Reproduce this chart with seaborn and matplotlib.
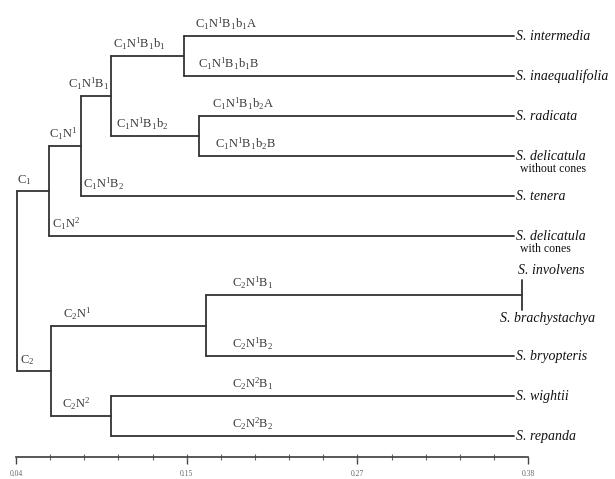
import numpy as np
import pandas as pd
import matplotlib.pyplot as plt
import seaborn as sns

# Hojas del dendrograma (especies)
leaf_names = ["S. intermedia", "S. inaequalifolia", "S. radicata", "S. delicatula",
              "S. tenera", "S. delicatula", "S. involvens", "S. brachystachya",
              "S. bryopteris", "S. wightii", "S. repanda"]
leaf_notes = ["", "", "", "without cones", "", "with cones", "", "", "", "", ""]
leaf_rows = [0, 1, 2, 3, 4, 5, 6.1, 6.85, 8, 9, 10]
leaf_tips = [0.3705, 0.3705, 0.3705, 0.3705, 0.3705, 0.3705, 0.376, 0.376, 0.3705, 0.3705, 0.3705]

# Uniones: ids 0-10 son hojas, 11 en adelante los nodos internos
merge_left = [0, 2, 11, 13, 14, 6, 16, 9, 17, 15]
merge_right = [1, 3, 12, 4, 5, 7, 8, 10, 18, 19]
merge_height = [0.1516, 0.1615, 0.103, 0.0832, 0.0619, 0.376, 0.166, 0.103, 0.0632, 0.0407]

# Etiquetas de las ramas
label_ids = [0, 1, 2, 3, 4, 5, 8, 9, 10, 11, 12, 13, 14, 15, 16, 17, 18, 19]
label_texts = [r"C_1N^1B_1b_1A", r"C_1N^1B_1b_1B", r"C_1N^1B_1b_2A", r"C_1N^1B_1b_2B",
               r"C_1N^1B_2", r"C_1N^2", r"C_2N^1B_2", r"C_2N^2B_1", r"C_2N^2B_2",
               r"C_1N^1B_1b_1", r"C_1N^1B_1b_2", r"C_1N^1B_1", r"C_1N^1", r"C_1",
               r"C_2N^1B_1", r"C_2N^1", r"C_2N^2", r"C_2"]
label_x = [0.1589, 0.1609, 0.1702, 0.1722, 0.0845, 0.0639, 0.1834, 0.1834, 0.1834,
           0.1044, 0.1064, 0.0745, 0.0619, 0.0407, 0.1834, 0.0712, 0.0705, 0.0427]

axis_ticks = [0.04, 0.1533, 0.2667, 0.38]
axis_labels = ["0.04", "0.15", "0.27", "0.38"]

# Posiciones (x, y) de cada id
pos_x = {i: t for i, t in enumerate(leaf_tips)}
pos_y = {i: r for i, r in enumerate(leaf_rows)}
segs = []
for k, (a, b, h) in enumerate(zip(merge_left, merge_right, merge_height)):
    nid = len(leaf_names) + k
    pos_x[nid] = h
    pos_y[nid] = (pos_y[a] + pos_y[b]) / 2
    for c in (a, b):
        segs.append((h, pos_y[c], pos_x[c], pos_y[c]))
    segs.append((h, pos_y[a], h, pos_y[b]))

rows = []
for s, (x0, y0, x1, y1) in enumerate(segs):
    rows.append({"seg": s, "x": x0, "y": y0})
    rows.append({"seg": s, "x": x1, "y": y1})
df = pd.DataFrame(rows)

sns.set_theme(style="white")
plt.rcParams["font.family"] = ["Liberation Serif", "DejaVu Serif"]
plt.rcParams["mathtext.fontset"] = "custom"
plt.rcParams["mathtext.rm"] = "Liberation Serif"
plt.rcParams["mathtext.it"] = "Liberation Serif:italic"

fig = plt.figure(figsize=(6.15, 4.79), dpi=100)
ax = fig.add_axes([0, 0, 1, 1])
sns.lineplot(data=df, x="x", y="y", units="seg", estimator=None, sort=False,
             color="#333333", linewidth=1.3, ax=ax, legend=False)

ax.set_xlim(0.02938, 0.4377)
ax.set_ylim(11.075, -0.9)

# Nombres de las especies
for i, name in enumerate(leaf_names):
    x, y = leaf_tips[i], leaf_rows[i]
    if name == "S. involvens":
        ax.text(x - 0.003, y - 0.08, name, style="italic", fontsize=10,
                ha="left", va="bottom", color="#111111")
    elif name == "S. brachystachya":
        ax.text(x + 0.017, y + 0.05, name, style="italic", fontsize=10,
                ha="center", va="top", color="#111111")
    else:
        ax.text(x + 0.0012, y, name, style="italic", fontsize=10,
                ha="left", va="center", color="#111111")
    if leaf_notes[i]:
        ax.text(x + 0.004, y + 0.33, leaf_notes[i], fontsize=8.5,
                ha="left", va="center", color="#111111")

# Etiquetas de las ramas
for nid, txt, lx in zip(label_ids, label_texts, label_x):
    ax.text(lx, pos_y[nid] - 0.09, r"$\mathrm{" + txt + "}$", fontsize=9,
            ha="left", va="bottom", color="#3a3a3a")

# Eje de la escala
for side in ["top", "left", "right"]:
    ax.spines[side].set_visible(False)
ax.spines["bottom"].set_position(("data", 10.525))
ax.spines["bottom"].set_bounds(0.04, 0.38)
ax.spines["bottom"].set_color("#444444")
ax.set_xticks(axis_ticks)
ax.set_xticklabels(axis_labels, fontsize=5.5, color="#666666")
ax.set_xticks(np.linspace(0.04, 0.38, 16), minor=True)
ax.tick_params(axis="x", which="major", direction="out", length=5, width=1,
               color="#444444", pad=4.5, bottom=True)
ax.tick_params(axis="x", which="minor", direction="inout", length=4, width=0.8,
               color="#666666", bottom=True)
ax.set_yticks([])
ax.set_xlabel("")
ax.set_ylabel("")

fig.savefig("out.png", dpi=100, facecolor="white")
